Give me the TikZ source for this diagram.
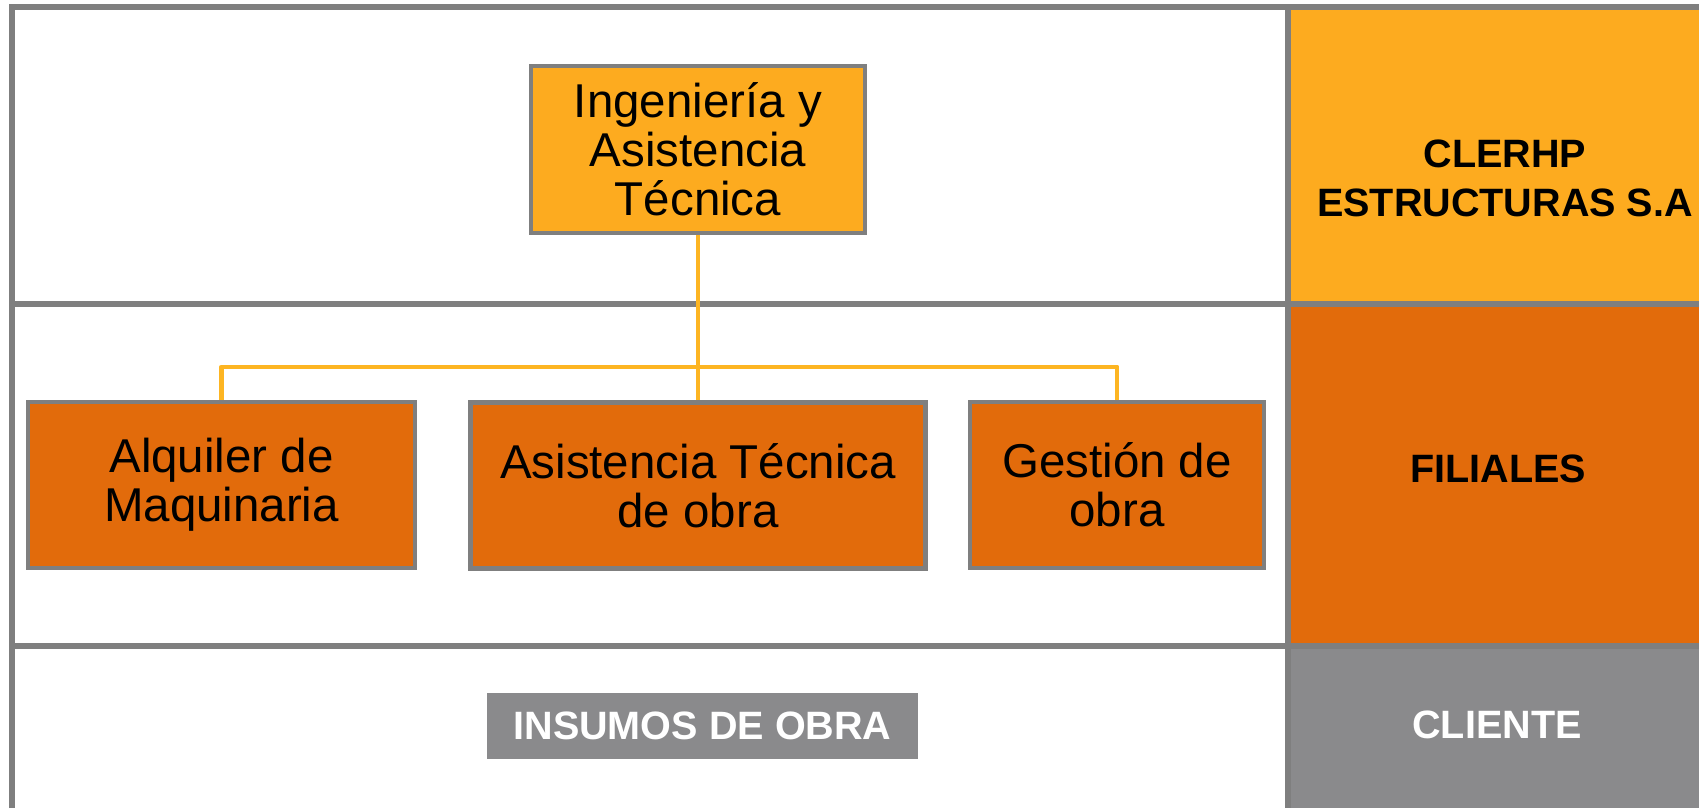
\documentclass[tikz,border=0pt]{standalone}
\usepackage{fontspec}
\setmainfont{Liberation Sans}
\definecolor{amber}{HTML}{FDAB1F}
\definecolor{rust}{HTML}{E26B0B}
\definecolor{stone}{HTML}{8A8A8C}
\definecolor{edgegray}{HTML}{7F7F7F}
\definecolor{wire}{HTML}{FDB522}

\begin{document}
\begin{tikzpicture}[x=0.01cm,y=-0.01cm,
    unit/.style={draw=edgegray,line width=1.3pt,fill=rust,align=center,inner sep=0pt,
      minimum height=1.66cm,font=\fontsize{13.5}{14}\selectfont},
    band/.style={align=center,inner sep=0pt,font=\bfseries\fontsize{11.25}{14}\selectfont},
    tie/.style={wire,line width=1.4pt,line join=round},
    divider/.style={edgegray,line width=1.7pt}]
    %initialisation
    \useasboundingbox (0,0) rectangle (1699,808);
    %definitions
    \coordinate (tl) at (12,7);
    \coordinate (tr) at (1699,7);
    \coordinate (bl) at (12,808);
    \coordinate (bus) at (698,367);
    %drawing
    \fill[amber] (1288,7) rectangle (1699,304);
    \fill[rust] (1288,304) rectangle (1699,646);
    \fill[stone] (1288,646) rectangle (1699,808);
    \draw[divider] (bl) -- (tl) -- (tr);
    \draw[divider] (12,304) -- (1699,304);
    \draw[divider] (12,646) -- (1699,646);
    \draw[divider] (1288,7) -- (1288,808);
    \node[unit,fill=amber,minimum width=3.34cm,minimum height=1.67cm] (ingenieria) at (698,149.5) {Ingeniería y\\Asistencia\\Técnica};
    \node[unit,minimum width=3.87cm] (alquiler) at (221.5,485) {Alquiler de\\Maquinaria};
    \node[unit,minimum width=4.55cm] (asistencia) at (698,485.5) {Asistencia Técnica\\de obra};
    \node[unit,minimum width=2.94cm] (gestion) at (1117,485) {Gestión de\\obra};
    \draw[tie] (ingenieria.south) -- (asistencia.north);
    \draw[tie] (alquiler.north) |- (bus) -| (gestion.north);
    \node[band,fill=stone,text=white,minimum width=4.31cm,minimum height=0.66cm] (insumos) at (702.5,726) {INSUMOS DE OBRA};
    %label
    \node[band] (clerhp) at (1505,178.5) {CLERHP\\ESTRUCTURAS S.A};
    \node[band] (filiales) at (1498,469) {FILIALES};
    \node[band,text=white] (cliente) at (1497,725) {CLIENTE};
\end{tikzpicture}
\end{document}
